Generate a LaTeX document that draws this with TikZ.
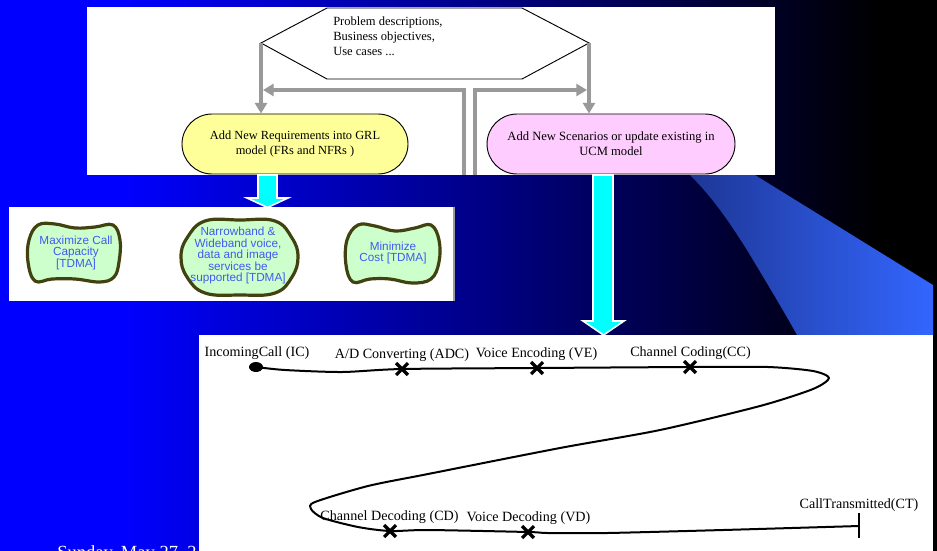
\documentclass[tikz,border=0pt]{standalone}
\usepackage{fontspec}
\setmainfont{Liberation Serif}
\newfontfamily\goalfont{Liberation Sans}
\usetikzlibrary{arrows.meta,shapes.misc,shapes.geometric}
\definecolor{arrgray}{RGB}{153,153,153}
\definecolor{noteyellow}{RGB}{255,255,153}
\definecolor{notepink}{RGB}{255,204,255}
\definecolor{goalgreen}{RGB}{204,255,204}
\definecolor{goalline}{RGB}{66,66,16}
\definecolor{goaltext}{RGB}{64,90,240}
\definecolor{wedgeA}{RGB}{30,55,150}
\definecolor{wedgeB}{RGB}{51,102,255}
\definecolor{purecyan}{RGB}{0,255,255}
\definecolor{pureblue}{RGB}{0,0,255}
\tikzset{
  x=0.75pt,y=-0.75pt,
  panel/.style={fill=white,draw=none},
  grayflow/.style={draw=arrgray,line width=3pt,-{Triangle[length=8pt,width=9pt]},line join=miter},
  taskbox/.style={rounded rectangle,draw=black,line width=0.7pt,minimum width=169.5pt,minimum height=45pt,
     inner sep=0pt,align=center,font=\fontsize{9.3}{11.25}\selectfont},
  bigarrow/.style={fill=purecyan,draw=white,line width=1.2pt,line join=miter},
  goalshape/.style={fill=goalgreen,draw=goalline,line width=2.4pt},
  goallabel/.style={text=goaltext,align=center,inner sep=0pt,font=\goalfont\fontsize{8.8}{8.6}\selectfont},
  ucmline/.style={draw=black,line width=1.5pt,line join=round},
  respon/.style={cross out,draw=black,line width=2.4pt,minimum size=6.5pt,inner sep=0pt},
  ucmlabel/.style={inner sep=0pt,font=\fontsize{10.6}{12}\selectfont},
}
\begin{document}
\begin{tikzpicture}
\useasboundingbox (0,0) rectangle (937,550);
% background
\fill[pureblue] (-5,-5) rectangle (120,560);
\fill[left color=pureblue,right color=black] (120,-5) rectangle (880,560);
\fill[black] (880,-5) rectangle (945,560);
% wedge
\fill[left color=wedgeA,right color=wedgeB] (690,175) .. controls (712,197) and (728,220) .. (747,250)
   .. controls (765,280) and (782,308) .. (797,335) -- (933,335) -- (933,285) -- (755,175) -- cycle;
% date text under the panel
\node[anchor=base west,inner sep=0pt,text=white,font=\fontsize{13.9}{16}\selectfont] (date) at (57,558) {Sunday, May 27, 2};
% panels
\fill[panel] (87,7) rectangle (775,175);
\fill[white] (9,207) rectangle (453,301);
\fill[arrgray] (453,207) rectangle (455,301);
\fill[panel] (199,335) rectangle (933,560);

% hexagon
\coordinate (hexL) at (261,43);
\coordinate (hexR) at (589,43);
\draw[black,line width=0.7pt] (hexL) -- (327,8) -- (522,8) -- (hexR) -- (522,79) -- (327,79) -- cycle;
\node[anchor=north west,inner sep=0pt,align=left,font=\fontsize{9.4}{11.1}\selectfont] (problem) at (333,17)
  {Problem descriptions,\\Business objectives,\\Use cases ...};

% task nodes
\node[taskbox,fill=noteyellow] (grl) at (295,144) {Add New Requirements into GRL\\model (FRs and NFRs )};
\node[taskbox,fill=notepink,minimum width=186pt,font=\fontsize{9.45}{11.25}\selectfont] (ucm) at (611,144) {Add New Scenarios or update existing in\\UCM model};

% gray connectors
\coordinate (fbLstart) at (464,175);
\coordinate (fbRstart) at (475,175);
\coordinate (fbLend) at (263,90);
\coordinate (fbRend) at (587,90);
\draw[grayflow] (hexL) -- (hexL |- grl.north);
\draw[grayflow] (hexR) -- (hexR |- ucm.north);
\draw[grayflow] (fbLstart) |- (fbLend);
\draw[grayflow] (fbRstart) |- (fbRend);

% big cyan arrows
\draw[bigarrow] (258,175) -- (277,175) -- (277,198) -- (288,198) -- (267.5,207.5) -- (247,198) -- (258,198) -- cycle;
\draw[bigarrow] (593,175) -- (613,175) -- (613,321) -- (624,321) -- (603.5,335) -- (583,321) -- (593,321) -- cycle;

% goals
\draw[goalshape] plot[smooth cycle,tension=0.65] coordinates {(38,225) (55,224) (75,228) (95,227) (113,225) (120,240) (119,262) (114,277) (100,282) (75,279) (52,279) (35,281) (28,262) (29,240)};
\node[goallabel] (goalA) at (76,252.5) {Maximize Call\\Capacity\\{[TDMA]}};
\draw[goalshape] plot[smooth cycle,tension=0.7] coordinates {(205,221) (240,220) (275,221) (292,238) (298,257) (292,277) (275,293) (240,295) (205,293) (187,277) (181,257) (187,238)};
\node[goallabel] (goalB) at (238,255.5) {Narrowband \&\\Wideband voice,\\data and image\\services be\\supported [TDMA]};
\draw[goalshape] plot[smooth cycle,tension=0.65] coordinates {(358,225) (375,226) (395,231) (415,228) (431,225) (439,240) (439,262) (431,279) (412,283) (390,279) (370,279) (353,282) (346,265) (347,240)};
\node[goallabel] (goalC) at (393,253) {Minimize\\Cost [TDMA]};

% UCM path
\node[ellipse,fill=black,minimum width=10.5pt,minimum height=7.5pt,inner sep=0pt] (ic) at (256,367) {};
\node[respon] (adc) at (402,369) {};
\node[respon] (ve) at (537,368) {};
\node[respon] (cc) at (690,367) {};
\node[respon] (cd) at (390,531) {};
\node[respon] (vd) at (528,532) {};
\coordinate (ct) at (859,526);
\draw[ucmline] plot[smooth,tension=0.45] coordinates {(ic.center) (285,370) (342,372) (adc.center) (ve.center) (cc.center) (768,367) (813,371) (829,378) (813,389) (760,406) (660,430) (560,448) (428,474) (368,486) (315,502) (311,509) (323,518) (358,527) (cd.center) (428,530) (vd.center) (548,533) (607,533) (723,530) (ct)};
\draw[black,line width=2pt] (859,513) -- (ct) -- (859,538);

% UCM labels
\node[ucmlabel,anchor=base] (lic) at (257,356) {IncomingCall (IC)};
\node[ucmlabel,anchor=base] (ladc) at (402,358.5) {A/D Converting (ADC)};
\node[ucmlabel,anchor=base] (lve) at (536.5,357.5) {Voice Encoding (VE)};
\node[ucmlabel,anchor=base] (lcc) at (690.5,356.5) {Channel Coding(CC)};
\node[ucmlabel,anchor=base] (lcd) at (389.5,520.5) {Channel Decoding (CD)};
\node[ucmlabel,anchor=base] (lvd) at (528.5,521.5) {Voice Decoding (VD)};
\node[ucmlabel,anchor=base] (lct) at (859,508.5) {CallTransmitted(CT)};
\end{tikzpicture}
\end{document}
